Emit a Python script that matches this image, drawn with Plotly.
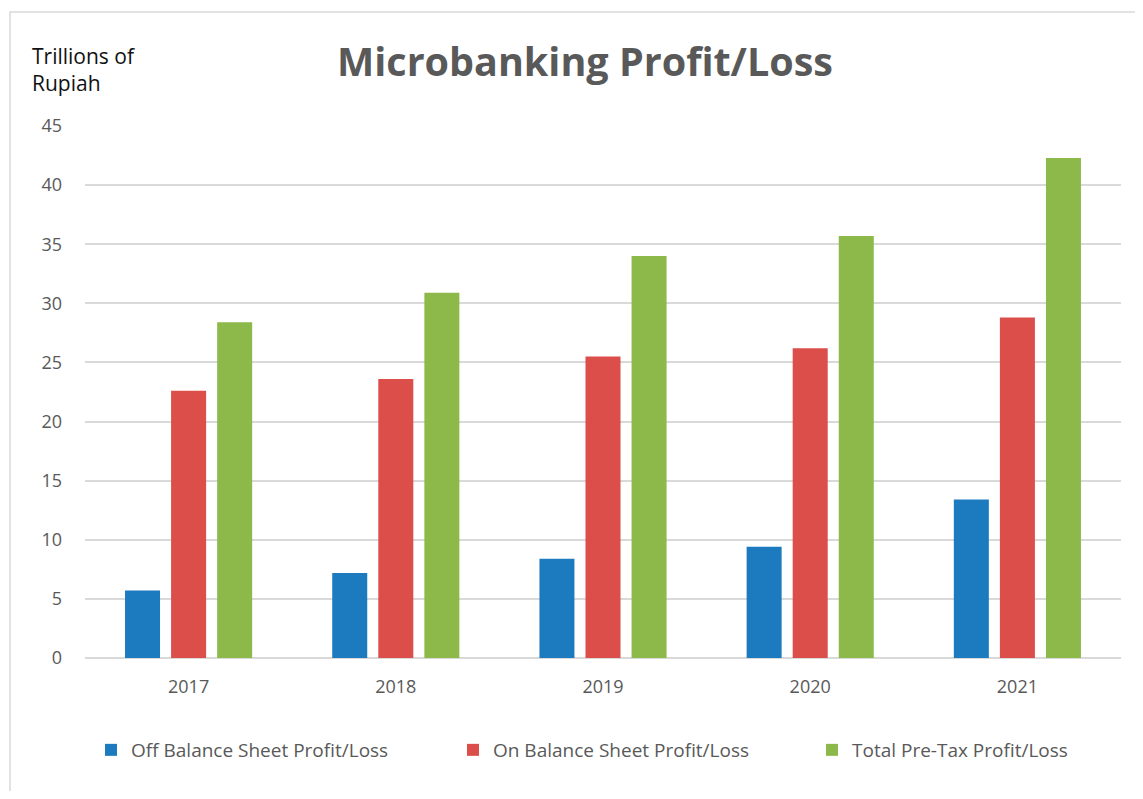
import plotly.graph_objects as go

years = ["2017", "2018", "2019", "2020", "2021"]
off_balance = [5.7, 7.2, 8.4, 9.4, 13.4]
on_balance = [22.6, 23.6, 25.5, 26.2, 28.8]
total_pretax = [28.4, 30.9, 34.0, 35.7, 42.3]

series_names = ["Off Balance Sheet Profit/Loss", "On Balance Sheet Profit/Loss", "Total Pre-Tax Profit/Loss"]
colors = ["#1C7BBE", "#DB4E4A", "#8DB94B"]
y_ticks = [0, 5, 10, 15, 20, 25, 30, 35, 40, 45]

# page body has an 8px margin, so the figure is sized/offset accordingly
W, H = 1127, 783
L, R, T, B = 77, 14, 118, 133
PW, PH = W - L - R, H - T - B

legend_ids = ["legend", "legend2", "legend3"]
legend_x_px = [83, 445, 804]  # figure px where each legend starts

fig = go.Figure()
for name, vals, col, lid in zip(series_names, [off_balance, on_balance, total_pretax], colors, legend_ids):
    fig.add_trace(go.Bar(x=years, y=vals, name=name, legend=lid, showlegend=True,
                         marker=dict(color=col, line=dict(width=0))))

leg_common = dict(orientation="h", xanchor="left", y=(650 - 742) / PH, yanchor="middle",
                  itemwidth=30, font=dict(size=19, color="#595959", family="Open Sans"),
                  bgcolor="rgba(0,0,0,0)", visible=True)

fig.update_layout(
    width=W, height=H,
    margin=dict(l=L, r=R, t=T, b=B),
    paper_bgcolor="white", plot_bgcolor="white",
    showlegend=True,
    barmode="group", bargap=0.333, bargroupgap=0.24,
    font=dict(family="Open Sans", color="#595959"),
    title=dict(text="<b>Microbanking Profit/Loss</b>", x=577 / W, xanchor="center",
               y=1 - 54 / H, yanchor="middle",
               font=dict(family="Open Sans", size=39.5, color="#595959")),
    xaxis=dict(showgrid=False, showline=False, ticks="", ticklabelstandoff=16,
               tickfont=dict(size=18, color="#595959")),
    yaxis=dict(range=[0, 45], tickvals=y_ticks, showgrid=True, gridcolor="#D9D9D9", gridwidth=1.5,
               zeroline=True, zerolinecolor="#D9D9D9", zerolinewidth=1.5,
               tickfont=dict(size=18, color="#595959"), ticks="", ticklabelstandoff=22),
    legend=dict(x=(legend_x_px[0] - L) / PW, **leg_common),
    legend2=dict(x=(legend_x_px[1] - L) / PW, **leg_common),
    legend3=dict(x=(legend_x_px[2] - L) / PW, **leg_common),
    annotations=[dict(text="Trillions of<br>Rupiah", xref="paper", yref="paper",
                      x=-(L - 22) / PW, y=1 + (T - 32) / PH,
                      xanchor="left", yanchor="top", align="left", showarrow=False,
                      font=dict(size=21, color="#111111", family="Open Sans"))],
    shapes=[dict(type="rect", xref="paper", yref="paper",
                 x0=-(L - 2) / PW, x1=1 + (R + 20) / PW,
                 y0=-(B + 20) / PH, y1=1 + (T - 4) / PH,
                 line=dict(color="#D9D9D9", width=1.5), fillcolor="rgba(0,0,0,0)", layer="below")],
)

fig.write_html("out.html")
